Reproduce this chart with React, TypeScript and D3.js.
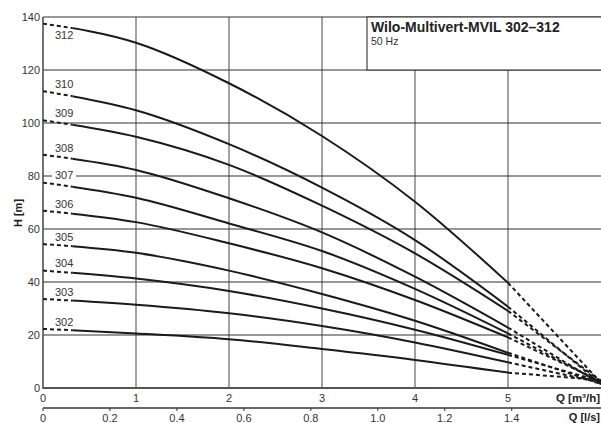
import React from "react";
import * as d3 from "d3";

const Q_POINTS = [0, 1, 2, 3, 4, 5];
const PUMPS = ["312", "310", "309", "308", "307", "306", "305", "304", "303", "302"];
const H_312 = [137.5, 130.3, 115.0, 95.1, 70.3, 39.7];
const H_310 = [112.0, 104.8, 92.0, 75.6, 55.8, 30.7];
const H_309 = [101.0, 94.8, 84.2, 68.8, 50.8, 29.1];
const H_308 = [88.0, 82.3, 71.6, 58.7, 42.0, 22.8];
const H_307 = [77.5, 71.8, 62.1, 51.7, 37.4, 20.6];
const H_306 = [66.9, 62.6, 54.6, 45.2, 33.2, 19.1];
const H_305 = [54.3, 51.0, 44.3, 35.5, 25.4, 13.3];
const H_304 = [44.3, 41.3, 36.6, 30.0, 22.0, 12.5];
const H_303 = [33.6, 31.4, 28.2, 23.4, 17.2, 9.7];
const H_302 = [22.3, 20.6, 18.4, 14.7, 10.6, 5.8];
const H_SERIES = [H_312, H_310, H_309, H_308, H_307, H_306, H_305, H_304, H_303, H_302];
const Q_END = 6;
const H_END = [2.0, 1.5, 2.5, 1.5, 2.0, 2.5, 1.5, 2.5, 2.0, 3.0];
const Q_DASH_START = 0.32;
const Y_TICKS = [0, 20, 40, 60, 80, 100, 120, 140];
const X_TICKS = [0, 1, 2, 3, 4, 5];
const LS_TICKS = [0, 0.2, 0.4, 0.6, 0.8, 1.0, 1.2, 1.4];
const TITLE = "Wilo-Multivert-MVIL 302–312";
const SUBTITLE = "50 Hz";

const W = 601;
const H = 423;
const FONT = "'Liberation Sans', Arial, sans-serif";

export default function App() {
  const x = d3.scaleLinear().domain([0, 6]).range([43, 601]);
  const y = d3.scaleLinear().domain([0, 140]).range([388, 17]);
  const xl = d3.scaleLinear().domain([0, 6 / 3.6]).range([43, 601]);
  const line = d3
    .line<[number, number]>()
    .x((d) => x(d[0]))
    .y((d) => y(d[1]))
    .curve(d3.curveMonotoneX);
  const straight = d3
    .line<[number, number]>()
    .x((d) => x(d[0]))
    .y((d) => y(d[1]));
  const xSplit = x(Q_DASH_START);
  const x5 = x(5);

  return (
    <svg
      width={W}
      height={H}
      style={{ position: "absolute", left: 0, top: 0, background: "#fff" }}
      fontFamily={FONT}
    >
      <defs>
        <clipPath id="clipDash">
          <rect x={x(0) - 2} y={0} width={xSplit - x(0) + 2} height={H} />
        </clipPath>
        <clipPath id="clipSolid">
          <rect x={xSplit} y={0} width={x5 - xSplit} height={H} />
        </clipPath>
      </defs>
      {/* vertical grid */}
      {X_TICKS.filter((t) => t > 0).map((t) => (
        <line
          key={"vg" + t}
          x1={x(t)}
          x2={x(t)}
          y1={x(t) > 367 ? 70 : 17}
          y2={388}
          stroke="#666"
          strokeWidth={1.2}
        />
      ))}
      {/* horizontal grid */}
      {Y_TICKS.filter((t) => t > 0).map((t) => (
        <line
          key={"hg" + t}
          x1={x(0)}
          x2={W}
          y1={y(t)}
          y2={y(t)}
          stroke="#333"
          strokeWidth={1.1}
        />
      ))}
      {/* title box */}
      <rect x={367} y={17} width={236} height={53} fill="#fff" stroke="#333" strokeWidth={1.1} />
      <text x={371} y={32} fontSize={14} fontWeight="bold" fill="#222">
        {TITLE}
      </text>
      <text x={371} y={45} fontSize={10.5} fill="#333">
        {SUBTITLE}
      </text>
      {/* axes */}
      <line x1={x(0)} x2={x(0)} y1={17} y2={389} stroke="#444" strokeWidth={1.5} />
      <line x1={x(0)} x2={W} y1={388} y2={388} stroke="#555" strokeWidth={2} />
      {Y_TICKS.map((t) => (
        <text
          key={"yt" + t}
          x={40}
          y={y(t)}
          dy="0.35em"
          textAnchor="end"
          fontSize={11}
          fill="#333"
        >
          {t}
        </text>
      ))}
      {X_TICKS.map((t) => (
        <text key={"xt" + t} x={x(t)} y={398} dy="0.35em" textAnchor="middle" fontSize={11} fill="#333">
          {t}
        </text>
      ))}
      <text x={600} y={398} dy="0.35em" textAnchor="end" fontSize={11.5} fontWeight="bold" fill="#222">
        Q [m³/h]
      </text>
      {/* l/s axis */}
      <line x1={x(0)} x2={W} y1={408} y2={408} stroke="#333" strokeWidth={1.5} />
      {LS_TICKS.map((t) => (
        <g key={"lt" + t}>
          <line x1={xl(t)} x2={xl(t)} y1={408} y2={411} stroke="#333" strokeWidth={1} />
          <text x={xl(t)} y={418} dy="0.35em" textAnchor="middle" fontSize={11} fill="#333">
            {t === 0 ? "0" : t.toFixed(1)}
          </text>
        </g>
      ))}
      <text x={600} y={417} dy="0.35em" textAnchor="end" fontSize={11} fontWeight="bold" fill="#222">
        Q [l/s]
      </text>
      <text
        transform={`translate(18,213) rotate(-90)`}
        textAnchor="middle"
        dy="0.35em"
        fontSize={11}
        fontWeight="bold"
        fill="#222"
      >
        H [m]
      </text>
      {/* curves */}
      {H_SERIES.map((hs, i) => {
        const pts: [number, number][] = Q_POINTS.map((q, j) => [q, hs[j]]);
        const tail: [number, number][] = [
          [5, hs[5]],
          [Q_END, H_END[i]],
        ];
        return (
          <g key={"c" + PUMPS[i]}>
            <path d={line(pts) || ""} fill="none" stroke="#1a1a1a" strokeWidth={2} strokeDasharray="4,3" clipPath="url(#clipDash)" />
            <path d={line(pts) || ""} fill="none" stroke="#1a1a1a" strokeWidth={2} clipPath="url(#clipSolid)" />
            <path d={straight(tail) || ""} fill="none" stroke="#1a1a1a" strokeWidth={2} strokeDasharray="4,3" />
          </g>
        );
      })}
      {/* labels */}
      {H_SERIES.map((hs, i) => {
        const cy = i === 0 ? y(hs[0]) + 12 : y(hs[0]) - 7;
        return (
          <g key={"l" + PUMPS[i]}>
            {i !== 0 && <rect x={52} y={cy - 5} width={24} height={10} fill="#fff" />}
            <text x={55} y={cy} dy="0.35em" fontSize={11} fill="#333">
              {PUMPS[i]}
            </text>
          </g>
        );
      })}
    </svg>
  );
}
